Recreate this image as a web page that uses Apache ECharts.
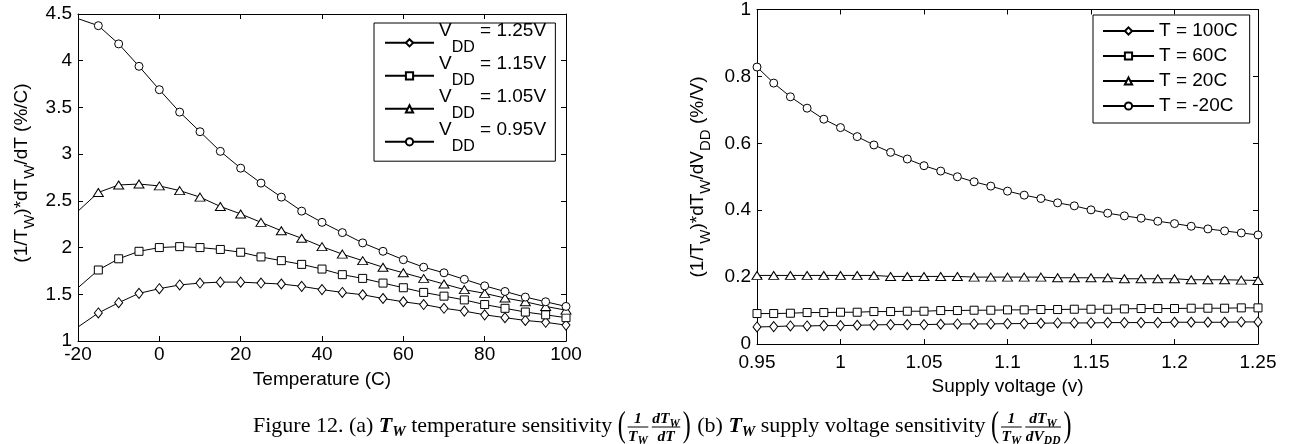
<!DOCTYPE html>
<html><head><meta charset="utf-8">
<script src="https://cdn.jsdelivr.net/npm/echarts@6/dist/echarts.min.js"></script>
<style>html,body{margin:0;padding:0;background:#fff}#c{width:1297px;height:444px}</style>
</head><body><div id="c"></div>
<script>
// ---------- data (a): temperature sensitivity ----------
const tempX = [-20,-15,-10,-5,0,5,10,15,20,25,30,35,40,45,50,55,60,65,70,75,80,85,90,95,100];
const vdd125 = [1.15,1.30,1.41,1.51,1.56,1.60,1.62,1.63,1.63,1.62,1.61,1.585,1.55,1.52,1.495,1.455,1.42,1.39,1.35,1.32,1.28,1.25,1.22,1.20,1.17];
const vdd115 = [1.57,1.76,1.88,1.96,2.00,2.01,2.00,1.98,1.95,1.90,1.86,1.82,1.77,1.71,1.67,1.62,1.57,1.52,1.48,1.44,1.39,1.35,1.31,1.28,1.25];
const vdd105 = [2.39,2.59,2.67,2.68,2.66,2.61,2.54,2.44,2.36,2.27,2.18,2.10,2.01,1.93,1.86,1.79,1.73,1.67,1.61,1.55,1.51,1.46,1.42,1.37,1.33];
const vdd095 = [4.45,4.375,4.18,3.94,3.69,3.45,3.24,3.03,2.85,2.69,2.54,2.39,2.27,2.16,2.05,1.96,1.87,1.79,1.73,1.66,1.59,1.53,1.47,1.42,1.37];
const leftNames = ['V_DD = 1.25V','V_DD = 1.15V','V_DD = 1.05V','V_DD = 0.95V'];
const leftXTicks = [-20,0,20,40,60,80,100];
const leftYTicks = [1,1.5,2,2.5,3,3.5,4,4.5];

// ---------- data (b): supply voltage sensitivity ----------
const voltX = [0.95,0.96,0.97,0.98,0.99,1.00,1.01,1.02,1.03,1.04,1.05,1.06,1.07,1.08,1.09,1.10,1.11,1.12,1.13,1.14,1.15,1.16,1.17,1.18,1.19,1.20,1.21,1.22,1.23,1.24,1.25];
const t100 = [0.051,0.052,0.054,0.054,0.055,0.055,0.056,0.057,0.058,0.058,0.058,0.059,0.060,0.060,0.060,0.061,0.061,0.062,0.063,0.063,0.063,0.064,0.064,0.064,0.064,0.065,0.065,0.065,0.065,0.066,0.066];
const t60 = [0.091,0.091,0.092,0.094,0.094,0.095,0.095,0.097,0.097,0.098,0.098,0.100,0.100,0.101,0.101,0.102,0.102,0.103,0.103,0.104,0.104,0.104,0.105,0.106,0.106,0.106,0.107,0.107,0.107,0.108,0.108];
const t20 = [0.205,0.205,0.205,0.205,0.205,0.205,0.205,0.205,0.202,0.202,0.202,0.202,0.202,0.200,0.200,0.200,0.200,0.200,0.198,0.198,0.198,0.198,0.195,0.195,0.195,0.195,0.192,0.192,0.192,0.191,0.190];
const tm20 = [0.828,0.780,0.739,0.705,0.672,0.647,0.620,0.595,0.573,0.553,0.533,0.517,0.500,0.485,0.472,0.457,0.445,0.435,0.422,0.413,0.401,0.391,0.383,0.376,0.367,0.360,0.352,0.344,0.338,0.332,0.326];
const rightNames = ['T = 100C','T = 60C','T = 20C','T = -20C'];
const rightXTicks = [0.95,1,1.05,1.1,1.15,1.2,1.25];
const rightYTicks = [0,0.2,0.4,0.6,0.8,1];

// ---------- build ----------
const SANS = '"Liberation Sans", Arial, sans-serif';
const SERIF = '"Liberation Serif", "Times New Roman", serif';
const BLACK = '#000';

function series(name, xs, ys, sym, size, axisIdx, skipFirst) {
  return {
    type: 'line', name, xAxisIndex: axisIdx * 2, yAxisIndex: axisIdx * 2,
    data: xs.map((x, i) => [x, ys[i]]),
    symbol: sym,
    symbolSize: skipFirst ? (v, p) => (p.dataIndex === 0 ? 0 : size) : size,
    showSymbol: true, showAllSymbol: true,
    lineStyle: { color: BLACK, width: 1 },
    itemStyle: { color: '#fff', borderColor: BLACK, borderWidth: 1 },
    emphasis: { disabled: true }, silent: true, animation: false
  };
}

function axisPair(grid, ticks, isX, label, nameCfg) {
  const min = ticks[0], max = ticks[ticks.length - 1], interval = ticks[1] - ticks[0];
  const base = {
    gridIndex: grid, type: 'value', min, max, interval,
    axisLine: { show: true, onZero: false, lineStyle: { color: BLACK, width: 1 } },
    axisTick: { show: true, inside: true, length: 5, lineStyle: { color: BLACK } },
    splitLine: { show: false },
  };
  const main = Object.assign({}, base, {
    position: isX ? 'bottom' : 'left',
    axisLabel: Object.assign({ color: BLACK, fontSize: 19, fontFamily: SANS,
      formatter: v => String(+v.toFixed(2)) }, label),
  }, nameCfg || {});
  const other = Object.assign({}, base, { position: isX ? 'top' : 'right', axisLabel: { show: false } });
  return [main, other];
}

const xAxes = [
  ...axisPair(0, leftXTicks, true, { margin: 4 }, {
    name: 'Temperature (C)', nameLocation: 'middle', nameGap: 29,
    nameTextStyle: { fontSize: 19, fontFamily: SANS, color: BLACK } }),
  ...axisPair(1, rightXTicks, true, { margin: 9 }, {
    name: 'Supply voltage (v)', nameLocation: 'middle', nameGap: 30,
    nameTextStyle: { fontSize: 19, fontFamily: SANS, color: BLACK } })
];
const yAxes = [
  ...axisPair(0, leftYTicks, false, { margin: 6 }),
  ...axisPair(1, rightYTicks, false, { margin: 6 })
];

const allSeries = [
  series(leftNames[0], tempX, vdd125, 'diamond', [8, 10], 0, true),
  series(leftNames[1], tempX, vdd115, 'rect', [8, 8], 0, true),
  series(leftNames[2], tempX, vdd105, 'triangle', [10, 8], 0, true),
  series(leftNames[3], tempX, vdd095, 'circle', 8, 0, true),
  series(rightNames[0], voltX, t100, 'diamond', [8, 10], 1, false),
  series(rightNames[1], voltX, t60, 'rect', [8, 8], 1, false),
  series(rightNames[2], voltX, t20, 'triangle', [10, 8], 1, false),
  series(rightNames[3], voltX, tm20, 'circle', 8, 1, false)
];

// ---------- y-axis titles (rotated rich text; subscripts bottom-aligned) ----------
const titleRich = {
  m: { fontSize: 19, fontFamily: SANS, fill: BLACK, lineHeight: 25, verticalAlign: 'top' },
  s: { fontSize: 15, fontFamily: SANS, fill: BLACK, verticalAlign: 'bottom' }
};
function yTitle(str, x, y) {
  return { type: 'text', x, y, rotation: Math.PI / 2, silent: true,
    style: { text: str, rich: titleRich, fontSize: 19, fontFamily: SANS, fill: BLACK,
      align: 'center', verticalAlign: 'middle' } };
}
const graphics = [
  yTitle('{m|(1/T}{s|W}{m|)*dT}{s|W}{m|/dT (%/C)}', 25, 173),
  yTitle('{m|(1/T}{s|W}{m|)*dT}{s|W}{m|/dV}{s|DD}{m| (%/V)}', 701, 177)
];

// ---------- caption (graphic text, measured layout) ----------
const ctx = document.createElement('canvas').getContext('2d');
function tw(str, size, weight, style) {
  ctx.font = `${style || 'normal'} ${weight || 'normal'} ${size}px ${SERIF}`;
  return ctx.measureText(str).width;
}
const CS = 22;         // caption font size
let cx = 253;
const Ym = 426;
function txt(str, x, y, size, weight, style, extra) {
  graphics.push(Object.assign({ type: 'text', x, y, silent: true,
    style: { text: str, fontSize: size, fontWeight: weight || 'normal', fontStyle: style || 'normal',
      fontFamily: SERIF, fill: BLACK, verticalAlign: 'middle', align: 'left' } }, extra || {}));
  return tw(str, size, weight, style);
}
function put(str, size, weight, style, dy) { cx += txt(str, cx, Ym + (dy || 0), size, weight, style); }
function tsub(main, sub, size, subSize, x, y) {
  const w1 = txt(main, x, y, size, 'bold', 'italic');
  const w2 = sub ? txt(sub, x + w1, y + size * 0.3, subSize, 'bold', 'italic') : 0;
  return w1 + w2;
}
function mw(main, sub, size, subSize) {
  return tw(main, size, 'bold', 'italic') + (sub ? tw(sub, subSize, 'bold', 'italic') : 0);
}
function frac(num, den) {
  const fs = 15.5, ss = 11.5;
  const wn = mw(num[0], num[1], fs, ss), wd = mw(den[0], den[1], fs, ss);
  const w = Math.max(wn, wd) + 3;
  const bar = Ym + 1;
  graphics.push({ type: 'line', silent: true, shape: { x1: cx + 1, y1: bar, x2: cx + w - 1, y2: bar },
    style: { stroke: BLACK, lineWidth: 1 } });
  tsub(num[0], num[1], fs, ss, cx + (w - wn) / 2, bar - 8);
  tsub(den[0], den[1], fs, ss, cx + (w - wd) / 2, bar + 9.5);
  cx += w + 1.5;
}
function paren(ch) { cx += txt(ch, cx, Ym + 1, 24, 'normal', 'normal', { scaleY: 1.5 }) + 1; }

put('Figure 12. (a) ', CS);
cx += tsub('T', 'W', CS, 15, cx, Ym);
put(' temperature sensitivity ', CS);
paren('(');
frac(['1', ''], ['T', 'W']);
frac(['dT', 'W'], ['dT', '']);
paren(')');
put(' (b) ', CS);
cx += tsub('T', 'W', CS, 15, cx, Ym);
put(' supply voltage sensitivity ', CS);
paren('(');
frac(['1', ''], ['T', 'W']);
frac(['dT', 'W'], ['dV', 'DD']);
paren(')');

// ---------- legends ----------
const legLeft = {
  left: 374, top: 23, orient: 'vertical', data: leftNames,
  itemWidth: 49, itemHeight: 9, itemGap: -1.7, padding: [-2, 4, 6.5, 10],
  borderColor: BLACK, borderWidth: 1, backgroundColor: '#fff', selectedMode: false,
  formatter: n => n.replace(/^V_DD(.*)$/, '{m|V}{s|DD}{m|$1}{p| }'),
  textStyle: { fontSize: 19, fontFamily: SANS, color: BLACK, padding: [0, 0, 9, 0],
    rich: {
      m: { fontSize: 19, fontFamily: SANS, color: BLACK, verticalAlign: 'top' },
      s: { fontSize: 16, fontFamily: SANS, color: BLACK, verticalAlign: 'bottom' },
      p: { fontSize: 19, fontFamily: SANS, color: BLACK, lineHeight: 34.7, verticalAlign: 'top' }
    } }
};
const legRight = {
  left: 1093, top: 15, orient: 'vertical', data: rightNames,
  itemWidth: 51, itemHeight: 9, itemGap: 3, padding: [5, 12, 6, 9],
  borderColor: BLACK, borderWidth: 1, backgroundColor: '#fff', selectedMode: false,
  textStyle: { fontSize: 19, fontFamily: SANS, color: BLACK, lineHeight: 22 }
};

const chart = echarts.init(document.getElementById('c'), null, { renderer: 'canvas' });
chart.setOption({
  animation: false,
  backgroundColor: '#fff',
  grid: [
    { left: 78, top: 14, width: 488, height: 327, containLabel: false },
    { left: 757, top: 8, width: 501, height: 336, containLabel: false }
  ],
  xAxis: xAxes,
  yAxis: yAxes,
  legend: [legLeft, legRight],
  series: allSeries,
  graphic: graphics
});
</script>
</body></html>
